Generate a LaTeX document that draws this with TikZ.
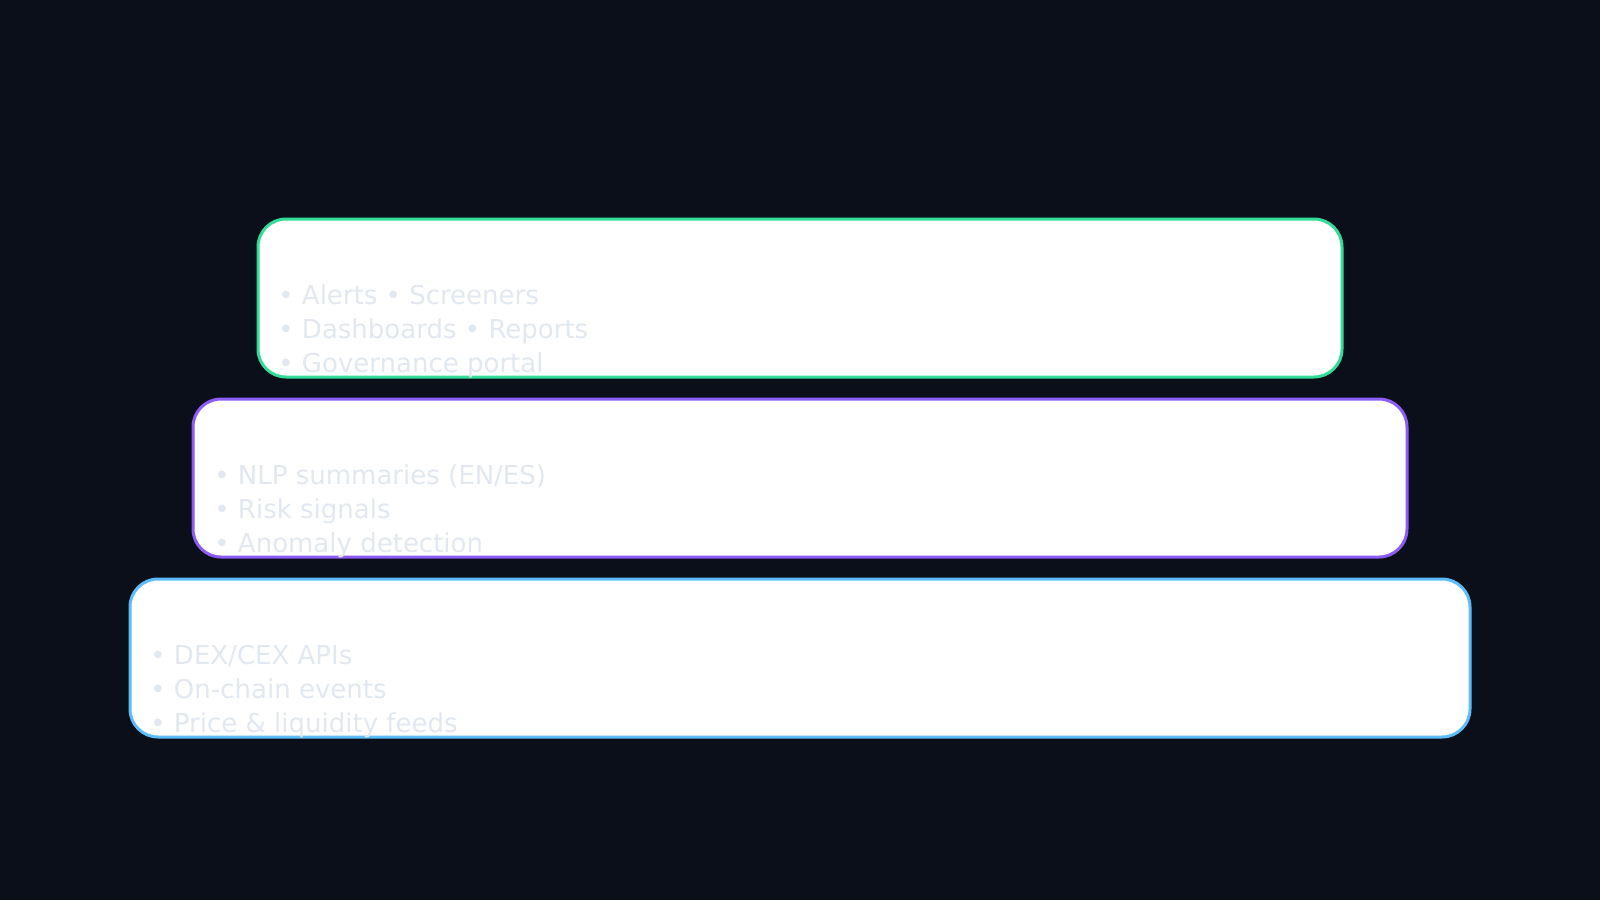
\documentclass[tikz,border=0pt]{standalone}
\usepackage{fontspec}
\setmainfont{DejaVu Sans}
\definecolor{bgdark}{HTML}{0B0F19}
\definecolor{appgreen}{HTML}{33DD99}
\definecolor{aiviolet}{HTML}{8B5CF6}
\definecolor{datablue}{HTML}{5DBDFB}
\definecolor{bullettext}{HTML}{E2E8F0}
\begin{document}
\begin{tikzpicture}[x=0.5pt,y=-0.5pt,
    layer/.style={draw,line width=1.5pt,fill=white,rounded corners=14pt,
      minimum height=79pt,inner sep=0pt},
    items/.style={anchor=base west,align=left,inner sep=0pt,text=bullettext,
      font=\fontsize{13}{17}\selectfont}]

  \fill[bgdark] (0,0) rectangle (1600,900);

  % applications
  \node (apps) [layer,draw=appgreen,minimum width=542pt] at (800,298) {};
  \node (appsitems) [items] at (278,372)
    {• Alerts • Screeners\\• Dashboards • Reports\\• Governance portal};

  % intelligence
  \node (intel) [layer,draw=aiviolet,minimum width=607pt] at (800,478) {};
  \node (intelitems) [items] at (214,552)
    {• NLP summaries (EN/ES)\\• Risk signals\\• Anomaly detection};

  % data sources
  \node (data) [layer,draw=datablue,minimum width=670pt] at (800,658) {};
  \node (dataitems) [items] at (150,732)
    {• DEX/CEX APIs\\• On-chain events\\• Price \& liquidity feeds};

\end{tikzpicture}
\end{document}
